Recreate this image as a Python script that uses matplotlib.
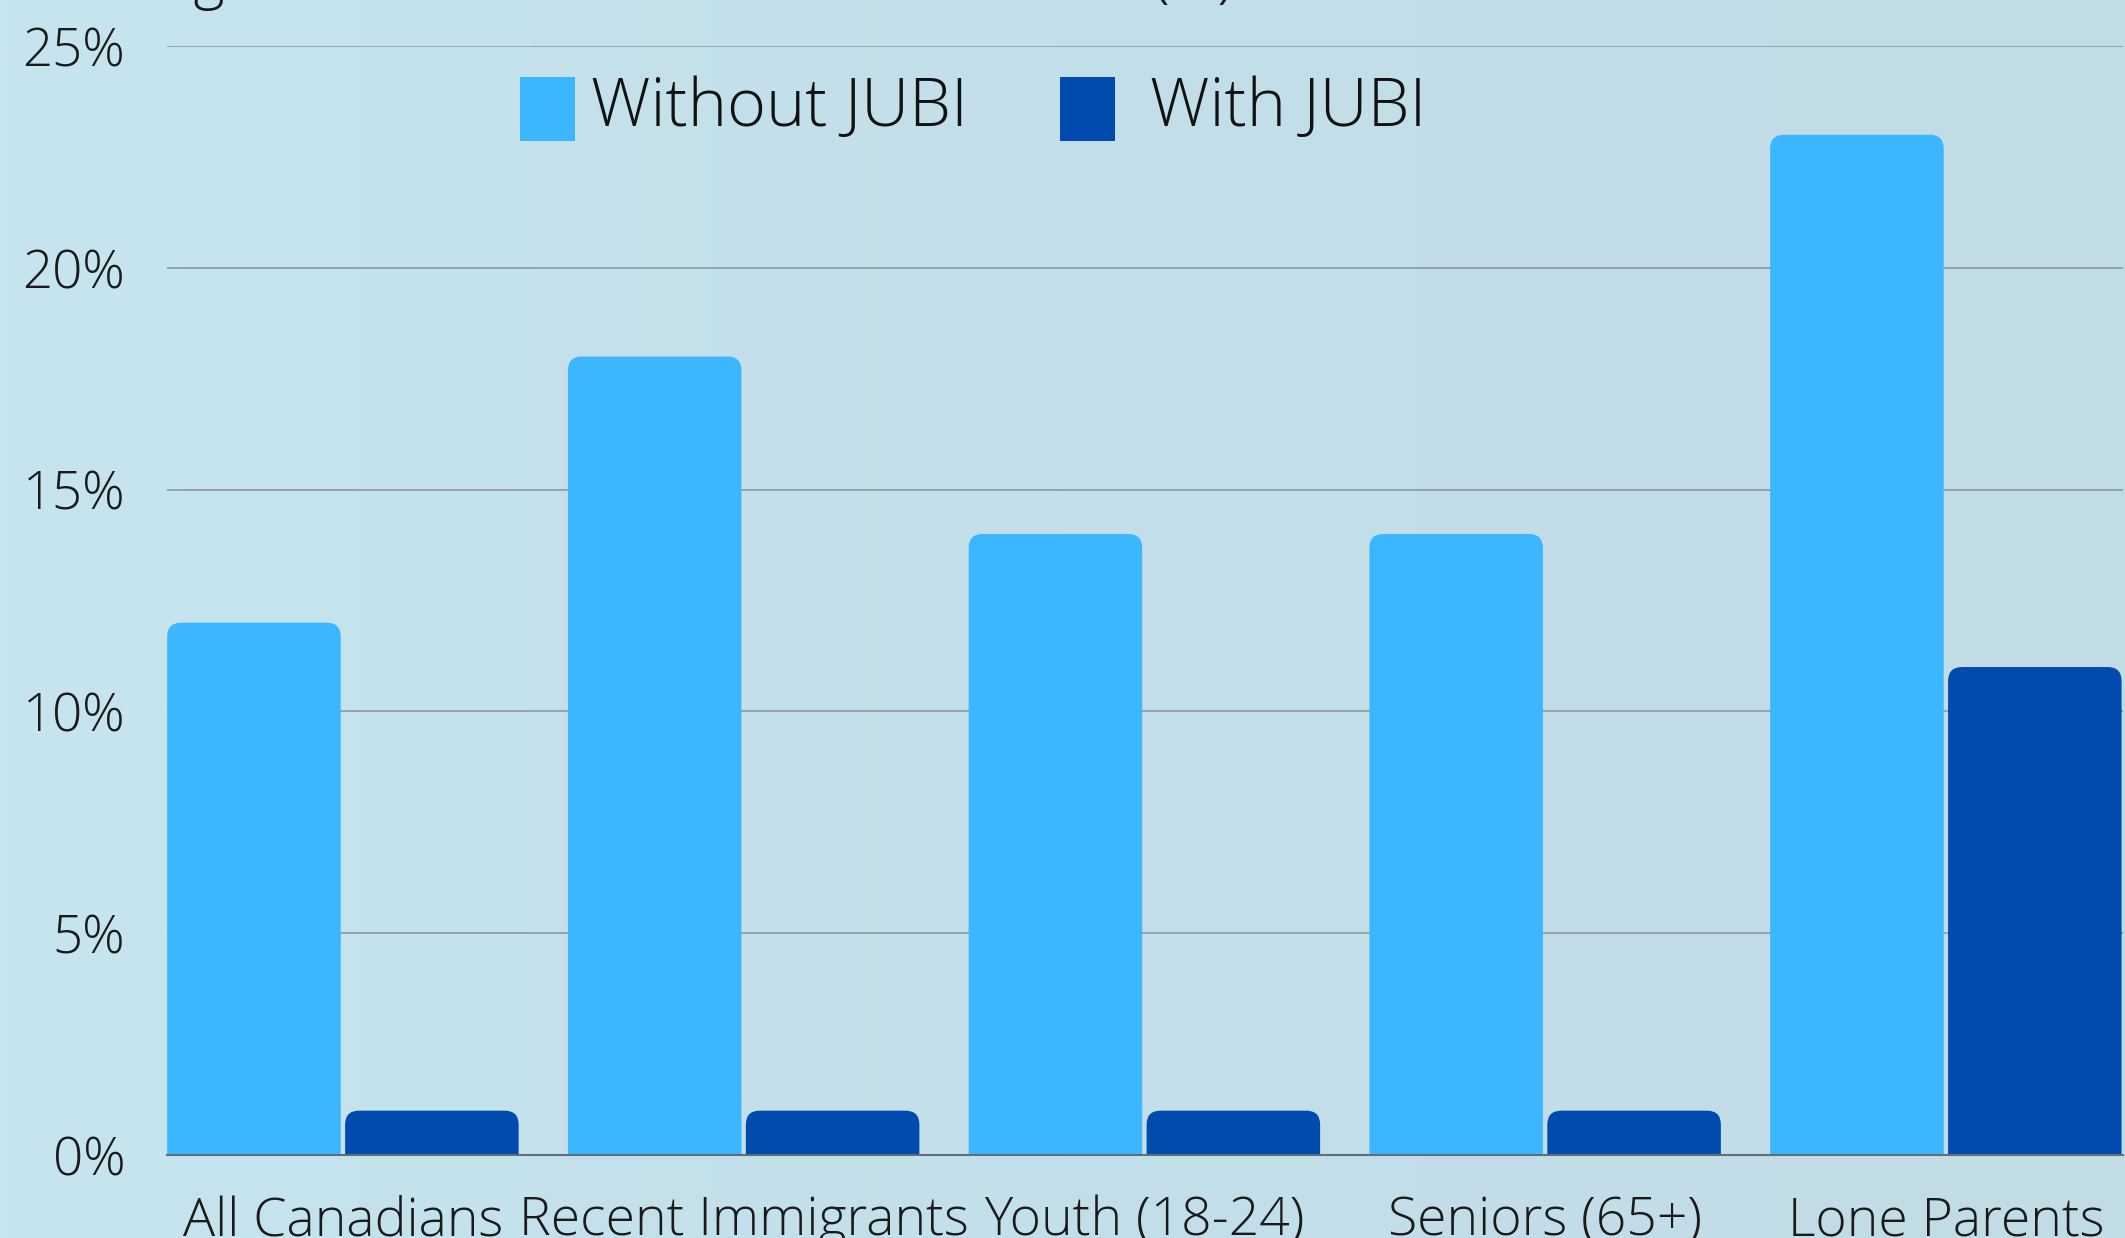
import numpy as np
import matplotlib.pyplot as plt
from matplotlib.patches import FancyBboxPatch, Rectangle
from matplotlib.colors import LinearSegmentedColormap

# datos del gráfico
grupos = ["All Canadians", "Recent Immigrants", "Youth (18-24)", "Seniors (65+)", "Lone Parents"]
sin_jubi = [12, 18, 14, 14, 23]
con_jubi = [1, 1, 1, 1, 11]
series = ["Without JUBI", "With JUBI"]
ticks_y = [0, 5, 10, 15, 20, 25]
titulo = "Changes in Low-Income Rates in Canada (%)"

COLOR_CLARO = "#3BB6FF"
COLOR_OSCURO = "#004BAD"
FUENTE = ["Open Sans", "DejaVu Sans"]

plt.rcParams["font.family"] = FUENTE

W, H = 2125, 1238
fig = plt.figure(figsize=(W / 100, H / 100), dpi=100)

# fondo con degradado suave
bg = fig.add_axes([0, 0, 1, 1], zorder=-10)
cmap = LinearSegmentedColormap.from_list("fondo", ["#C6E5EE", "#C3DFE9", "#C2DCE6"])
grad = np.linspace(0, 1, 256).reshape(1, -1)
bg.imshow(grad, aspect="auto", cmap=cmap, extent=[0, 1, 0, 1])
bg.axis("off")

left, right = 167 / W, 2123 / W
bottom, top = (H - 1155) / H, (H - 46) / H
ax = fig.add_axes([left, bottom, right - left, top - bottom])
ax.patch.set_alpha(0)

x = np.arange(len(grupos))
ancho = 0.433
desp = 0.222

ax.set_xlim(-0.439, 4.442)
ax.set_ylim(0, 25)

barras1 = ax.bar(x - desp, sin_jubi, ancho, color=COLOR_CLARO)
barras2 = ax.bar(x + desp, con_jubi, ancho, color=COLOR_OSCURO)

# reemplazar rectángulos por barras con esquinas superiores redondeadas
fig.canvas.draw()
px_x = ax.transData.transform((1, 0))[0] - ax.transData.transform((0, 0))[0]
px_y = ax.transData.transform((0, 1))[1] - ax.transData.transform((0, 0))[1]
radio = 14 / px_x
aspecto = px_x / px_y
for cont in (barras1, barras2):
    for r in cont.patches:
        x0, y0 = r.get_xy()
        w, h = r.get_width(), r.get_height()
        p = FancyBboxPatch((x0, y0 - 2), w, h + 2,
                           boxstyle=f"round,pad=0,rounding_size={radio}",
                           mutation_aspect=aspecto, facecolor=r.get_facecolor(),
                           edgecolor="none", zorder=2)
        ax.add_patch(p)
        r.set_visible(False)

ax.set_yticks(ticks_y)
ax.set_yticklabels([f"{t}%" for t in ticks_y], fontsize=38, fontweight="light", color="#1a1a1a")
ax.set_xticks(x)
ax.set_xticklabels(grupos, fontsize=38.5, fontweight="light", color="#1a1a1a")
ax.tick_params(axis="y", length=0, pad=30)
ax.tick_params(axis="x", length=0, pad=28.5)

ax.grid(axis="y", color="#8E9FA8", linewidth=1.3, zorder=0)
ax.set_axisbelow(True)
for s in ["top", "left", "right"]:
    ax.spines[s].set_visible(False)
ax.spines["bottom"].set_color("#5F6F78")
ax.spines["bottom"].set_linewidth(1.5)
ax.spines["bottom"].set_zorder(3)

# leyenda a mano (cuadro alto + texto)
ley_x = [520, 1060]
ley_txt_x = [591, 1150]
for xc, xt, col, lab in zip(ley_x, ley_txt_x, [COLOR_CLARO, COLOR_OSCURO], series):
    fig.add_artist(Rectangle((xc / W, 1 - 141 / H), 55 / W, 64 / H,
                             transform=fig.transFigure, facecolor=col, edgecolor="none"))
    fig.text(xt / W, 1 - 126 / H, lab, fontsize=48, fontweight="light",
             ha="left", va="baseline", color="#111111")

# título cortado por el borde superior de la imagen
fig.text(54 / W, 1 + 4 / H, titulo, fontsize=43, fontweight="light",
         ha="left", va="baseline", color="#1a1a1a")

fig.savefig("out.png", dpi=100)
